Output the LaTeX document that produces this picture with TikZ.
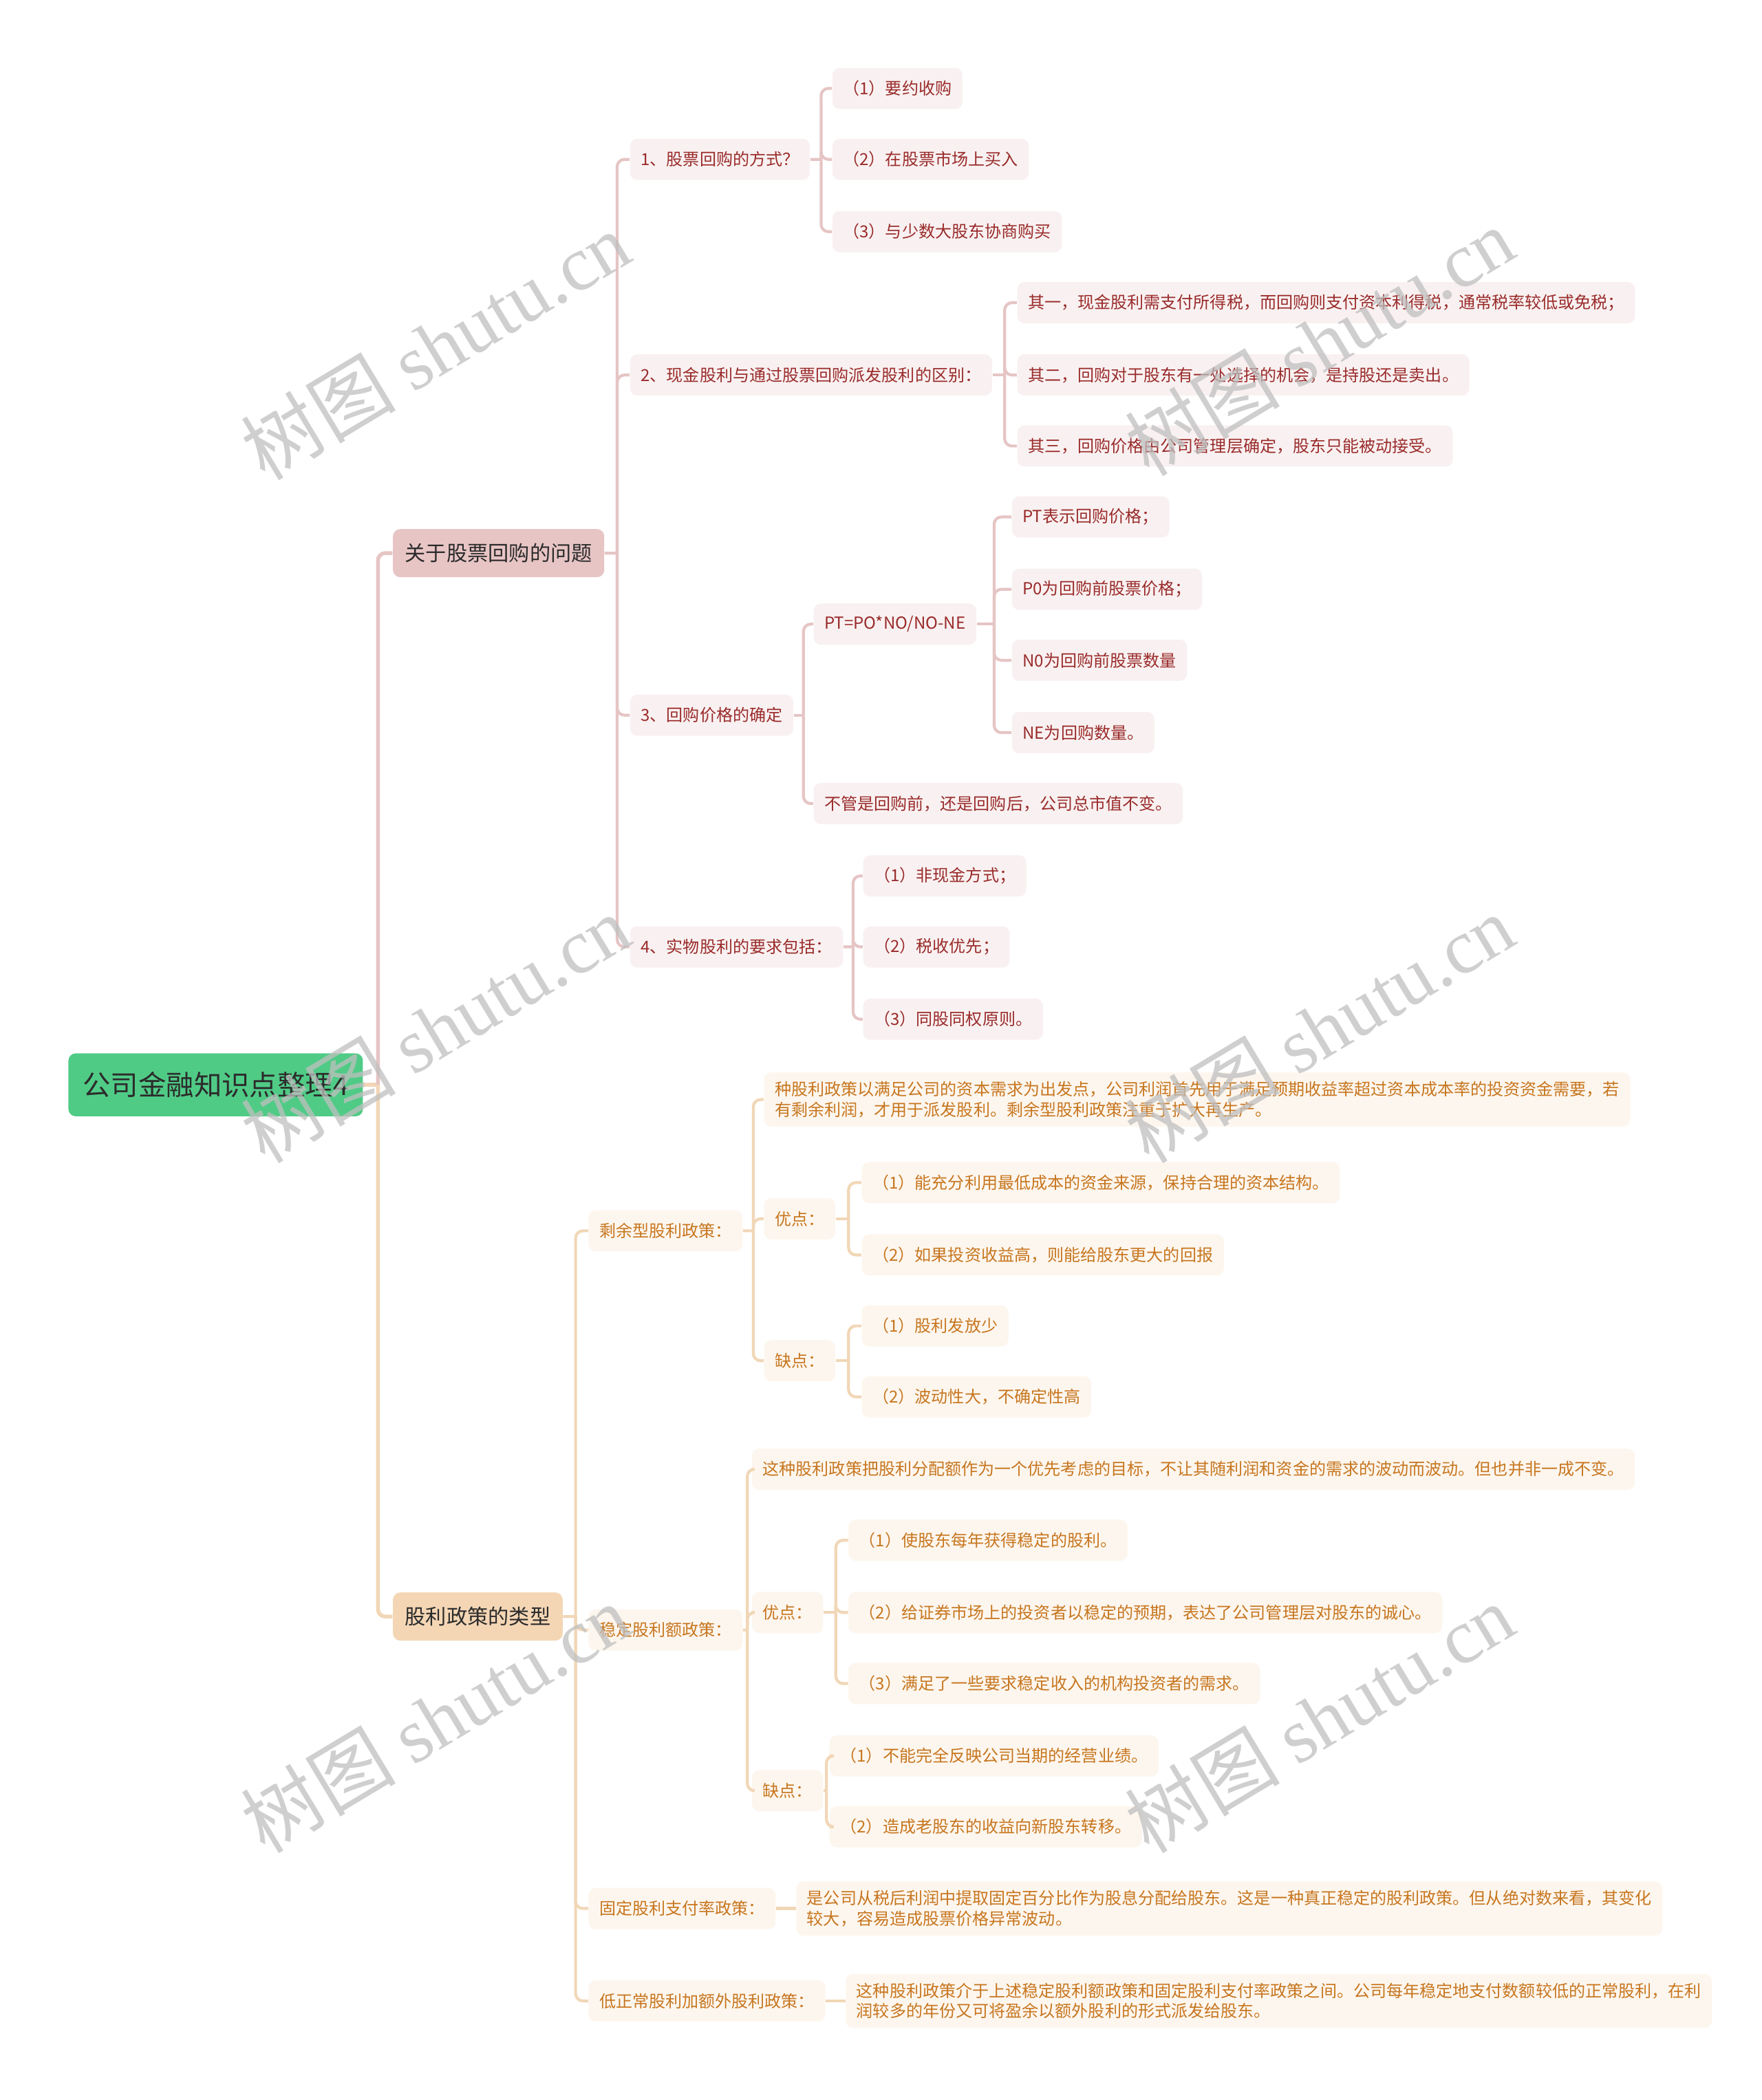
\documentclass[tikz,border=0pt]{standalone}
\usepackage{fontspec}
\setmainfont{Noto Sans CJK SC}
\newfontfamily\wmlatin{Liberation Serif}
\usetikzlibrary{calc,positioning}

\definecolor{rootgreen}{HTML}{50CB86}
\definecolor{rosetopic}{HTML}{E8C5C5}
\definecolor{rosefill}{HTML}{F9F1F1}
\definecolor{rosetext}{HTML}{9A2B2B}
\definecolor{roseline}{HTML}{E6C5C5}
\definecolor{sandtopic}{HTML}{F4D6B5}
\definecolor{sandfill}{HTML}{FDF6EE}
\definecolor{sandtext}{HTML}{C7761F}
\definecolor{sandline}{HTML}{F1D7B7}
\definecolor{inkdark}{HTML}{2B2B2B}

\tikzset{
  leaf/.style={anchor=west, rounded corners=3pt, inner xsep=0.156cm, inner ysep=3.8pt,
               minimum height=0.6cm, align=left, font=\fontsize{6.85}{8.3}\selectfont},
  roseleaf/.style={leaf, fill=rosefill, text=rosetext},
  sandleaf/.style={leaf, fill=sandfill, text=sandtext},
  topic/.style={anchor=west, rounded corners=3pt, inner xsep=0.175cm, minimum height=0.70cm,
                font=\fontsize{8.6}{10}\selectfont, text=inkdark},
  roselink/.style={draw=roseline, line width=1.2pt, rounded corners=3pt},
  sandlink/.style={draw=sandline, line width=1.2pt, rounded corners=3pt},
  wmark/.style={rotate=31, text=black!25, opacity=0.75, font=\fontsize{32}{32}\selectfont}
}

\begin{document}
\begin{tikzpicture}[x=0.019468cm, y=-0.019468cm]

  \fill[white] (0,0) rectangle (1315,1568);
  \useasboundingbox (0,0) rectangle (1315,1568);

  % root and main topics
  \node[fill=rootgreen, rounded corners=3pt, minimum width=4.28cm, minimum height=0.915cm,
        font=\fontsize{11.5}{13}\selectfont, text=inkdark] (root) at (161,810) {公司金融知识点整理4};
  \node[topic, fill=rosetopic] (repo) at (293,413) {关于股票回购的问题};
  \node[topic, fill=sandtopic] (policy) at (293,1207) {股利政策的类型};

  % stock repurchase branch
  \node[roseleaf] (way) at (470,119) {1、股票回购的方式？};
  \node[roseleaf] (diff) at (470,280) {2、现金股利与通过股票回购派发股利的区别：};
  \node[roseleaf] (price) at (470,534) {3、回购价格的确定};
  \node[roseleaf] (kind) at (470,707) {4、实物股利的要求包括：};

  \node[roseleaf] (way1) at (621,66) {（1）要约收购};
  \node[roseleaf] (way2) at (621,119) {（2）在股票市场上买入};
  \node[roseleaf] (way3) at (621,173) {（3）与少数大股东协商购买};

  \node[roseleaf] (diff1) at (759,226) {其一，现金股利需支付所得税，而回购则支付资本利得税，通常税率较低或免税；};
  \node[roseleaf] (diff2) at (759,280) {其二，回购对于股东有一处选择的机会，是持股还是卖出。};
  \node[roseleaf] (diff3) at (759,333) {其三，回购价格由公司管理层确定，股东只能被动接受。};

  \node[roseleaf] (formula) at (607,466) {PT=PO*NO/NO-NE};
  \node[roseleaf] (total) at (607,600) {不管是回购前，还是回购后，公司总市值不变。};
  \node[roseleaf] (fpt) at (755,386) {PT表示回购价格；};
  \node[roseleaf] (fp0) at (755,440) {P0为回购前股票价格；};
  \node[roseleaf] (fn0) at (755,493) {N0为回购前股票数量};
  \node[roseleaf] (fne) at (755,547) {NE为回购数量。};

  \node[roseleaf] (kind1) at (644,654) {（1）非现金方式；};
  \node[roseleaf] (kind2) at (644,707) {（2）税收优先；};
  \node[roseleaf] (kind3) at (644,761) {（3）同股同权原则。};

  % dividend policy branch
  \node[sandleaf] (resid) at (439,919) {剩余型股利政策：};
  \node[sandleaf] (stable) at (439,1217) {稳定股利额政策：};
  \node[sandleaf] (fixed) at (439,1425) {固定股利支付率政策：};
  \node[sandleaf] (lowx) at (439,1494) {低正常股利加额外股利政策：};

  \node[sandleaf] (residtxt) at (570,821) {种股利政策以满足公司的资本需求为出发点，公司利润首先用于满足预期收益率超过资本成本率的投资资金需要，若\\有剩余利润，才用于派发股利。剩余型股利政策注重于扩大再生产。};
  \node[sandleaf] (residpro) at (570,910) {优点：};
  \node[sandleaf] (residcon) at (570,1016) {缺点：};
  \node[sandleaf] (residpro1) at (643,883) {（1）能充分利用最低成本的资金来源，保持合理的资本结构。};
  \node[sandleaf] (residpro2) at (643,937) {（2）如果投资收益高，则能给股东更大的回报};
  \node[sandleaf] (residcon1) at (643,990) {（1）股利发放少};
  \node[sandleaf] (residcon2) at (643,1043) {（2）波动性大，不确定性高};

  \node[sandleaf] (stabletxt) at (561,1097) {这种股利政策把股利分配额作为一个优先考虑的目标，不让其随利润和资金的需求的波动而波动。但也并非一成不变。};
  \node[sandleaf] (stablepro) at (561,1204) {优点：};
  \node[sandleaf] (stablecon) at (561,1337) {缺点：};
  \node[sandleaf] (stablepro1) at (633,1150) {（1）使股东每年获得稳定的股利。};
  \node[sandleaf] (stablepro2) at (633,1204) {（2）给证券市场上的投资者以稳定的预期，表达了公司管理层对股东的诚心。};
  \node[sandleaf] (stablepro3) at (633,1257) {（3）满足了一些要求稳定收入的机构投资者的需求。};
  \node[sandleaf] (stablecon1) at (619,1311) {（1）不能完全反映公司当期的经营业绩。};
  \node[sandleaf] (stablecon2) at (619,1364) {（2）造成老股东的收益向新股东转移。};

  \node[sandleaf] (fixedtxt) at (594,1425) {是公司从税后利润中提取固定百分比作为股息分配给股东。这是一种真正稳定的股利政策。但从绝对数来看，其变化\\较大，容易造成股票价格异常波动。};
  \node[sandleaf] (lowxtxt) at (631,1494) {这种股利政策介于上述稳定股利额政策和固定股利支付率政策之间。公司每年稳定地支付数额较低的正常股利，在利\\润较多的年份又可将盈余以额外股利的形式派发给股东。};

  % junctions halfway between parent and children
  \coordinate (jroot) at ($(root.east)!0.5!(root.east -| repo.west)$);
  \coordinate (jrepo) at ($(repo.east)!0.5!(repo.east -| way.west)$);
  \coordinate (jway) at ($(way.east)!0.5!(way.east -| way1.west)$);
  \coordinate (jdiff) at ($(diff.east)!0.5!(diff.east -| diff1.west)$);
  \coordinate (jprice) at ($(price.east)!0.5!(price.east -| formula.west)$);
  \coordinate (jformula) at ($(formula.east)!0.5!(formula.east -| fpt.west)$);
  \coordinate (jkind) at ($(kind.east)!0.5!(kind.east -| kind1.west)$);
  \coordinate (jpolicy) at ($(policy.east)!0.5!(policy.east -| resid.west)$);
  \coordinate (jresid) at ($(resid.east)!0.5!(resid.east -| residtxt.west)$);
  \coordinate (jresidpro) at ($(residpro.east)!0.5!(residpro.east -| residpro1.west)$);
  \coordinate (jresidcon) at ($(residcon.east)!0.5!(residcon.east -| residcon1.west)$);
  \coordinate (jstable) at ($(stable.east)!0.5!(stable.east -| stabletxt.west)$);
  \coordinate (jstablepro) at ($(stablepro.east)!0.5!(stablepro.east -| stablepro1.west)$);
  \coordinate (jstablecon) at ($(stablecon.east)!0.5!(stablecon.east -| stablecon1.west)$);

  % connectors
  \draw[sandlink, line width=1.6pt] (root.east) -- (jroot);
  \draw[roselink, line width=1.6pt] (jroot) |- (repo.west);
  \draw[sandlink, line width=1.6pt] (jroot) |- (policy.west);

  \draw[roselink] (repo.east) -- (jrepo);
  \foreach \c in {way,diff,price,kind} \draw[roselink] (jrepo) |- (\c.west);
  \draw[roselink] (way.east) -- (jway);
  \foreach \c in {way1,way2,way3} \draw[roselink] (jway) |- (\c.west);
  \draw[roselink] (diff.east) -- (jdiff);
  \foreach \c in {diff1,diff2,diff3} \draw[roselink] (jdiff) |- (\c.west);
  \draw[roselink] (price.east) -- (jprice);
  \foreach \c in {formula,total} \draw[roselink] (jprice) |- (\c.west);
  \draw[roselink] (formula.east) -- (jformula);
  \foreach \c in {fpt,fp0,fn0,fne} \draw[roselink] (jformula) |- (\c.west);
  \draw[roselink] (kind.east) -- (jkind);
  \foreach \c in {kind1,kind2,kind3} \draw[roselink] (jkind) |- (\c.west);

  \draw[sandlink] (policy.east) -- (jpolicy);
  \foreach \c in {resid,stable,fixed,lowx} \draw[sandlink] (jpolicy) |- (\c.west);
  \draw[sandlink] (resid.east) -- (jresid);
  \foreach \c in {residtxt,residpro,residcon} \draw[sandlink] (jresid) |- (\c.west);
  \draw[sandlink] (residpro.east) -- (jresidpro);
  \foreach \c in {residpro1,residpro2} \draw[sandlink] (jresidpro) |- (\c.west);
  \draw[sandlink] (residcon.east) -- (jresidcon);
  \foreach \c in {residcon1,residcon2} \draw[sandlink] (jresidcon) |- (\c.west);
  \draw[sandlink] (stable.east) -- (jstable);
  \foreach \c in {stabletxt,stablepro,stablecon} \draw[sandlink] (jstable) |- (\c.west);
  \draw[sandlink] (stablepro.east) -- (jstablepro);
  \foreach \c in {stablepro1,stablepro2,stablepro3} \draw[sandlink] (jstablepro) |- (\c.west);
  \draw[sandlink] (stablecon.east) -- (jstablecon);
  \foreach \c in {stablecon1,stablecon2} \draw[sandlink] (jstablecon) |- (\c.west);
  \draw[sandlink] (fixed.east) -- (fixedtxt.west);
  \draw[sandlink] (lowx.east) -- (lowxtxt.west);

  % watermarks
  \node[wmark] (wm1) at (325,258) {树图 {\wmlatin shutu.cn}};
  \node[wmark] (wm2) at (985,255) {树图 {\wmlatin shutu.cn}};
  \node[wmark] (wm3) at (325,768) {树图 {\wmlatin shutu.cn}};
  \node[wmark] (wm4) at (985,768) {树图 {\wmlatin shutu.cn}};
  \node[wmark] (wm5) at (325,1283) {树图 {\wmlatin shutu.cn}};
  \node[wmark] (wm6) at (985,1283) {树图 {\wmlatin shutu.cn}};

\end{tikzpicture}
\end{document}
